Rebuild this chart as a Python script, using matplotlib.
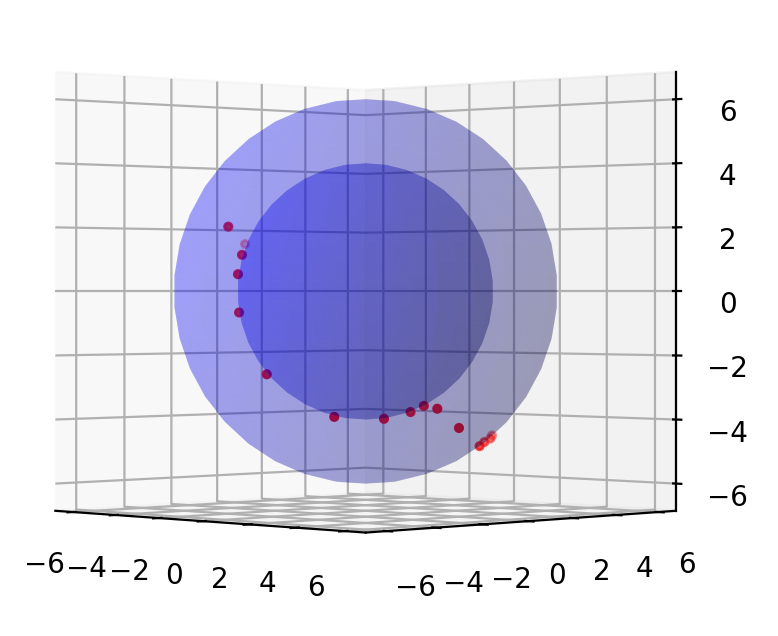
import numpy as np
import matplotlib
matplotlib.use('Agg')
import matplotlib.pyplot as plt

# trajectory points
x_pts = [-2.2, -3.8, -1.9, -1.78, -1.86, -1.05, 0.62, 1.5, 1.93, 2.22, 2.66, 3.18, 3.0, 2.67, 2.37, 2.07]
y_pts = [-3.8, -1.6, -3.5, -3.78, -3.66, -3.25, -1.98, -0.7, 0.03, 0.32, 0.46, 0.88, 2.0, 2.57, 3.17, 3.57]
z_pts = [2.0, 1.5, 1.13, 0.53, -0.65, -2.55, -3.85, -3.92, -3.72, -3.53, -3.61, -4.2, -4.8, -4.7, -4.62, -4.54]

radii = [6, 4]

fig = plt.figure(figsize=(3.89, 3.18), dpi=200)
ax = fig.add_axes([-32/778, 18/636, 1, 1], projection='3d')

u, v = np.mgrid[0:2*np.pi:30j, 0:np.pi:20j]
for r in radii:
    ax.plot_surface(r*np.cos(u)*np.sin(v), r*np.sin(u)*np.sin(v), r*np.cos(v),
                    color='b', alpha=0.2, linewidth=0)

ax.scatter(x_pts, y_pts, z_pts, color='#f01414', s=7)

ax.set_xlim(-6.85, 6.85)
ax.set_ylim(-6.85, 6.85)
ax.set_zlim(-6.85, 6.85)
ax.set_xticks(range(-6, 7, 2))
ax.set_yticks(range(-6, 7, 2))
ax.set_zticks(range(-6, 7, 2))
ax.tick_params(axis='x', pad=2)
ax.tick_params(axis='y', pad=2)
ax.tick_params(axis='z', pad=2)
ax.view_init(elev=0, azim=-45)
ax.set_box_aspect((1, 1, 1), zoom=1.16)

fig.savefig('out.png', dpi=200)
